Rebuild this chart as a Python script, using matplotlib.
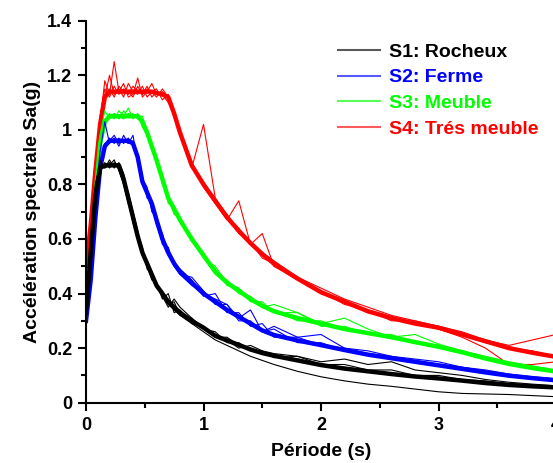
import matplotlib
matplotlib.use("Agg")
import matplotlib.pyplot as plt
from matplotlib.lines import Line2D

plt.rcParams['font.family'] = ['Liberation Sans', 'DejaVu Sans']
plt.rcParams['font.weight'] = 'bold'

# --- periods (s) shared by all curves ---
periods = [0.0, 0.04, 0.08, 0.12, 0.16, 0.20, 0.24, 0.28, 0.32, 0.36,
           0.40, 0.44, 0.48, 0.52, 0.56, 0.60, 0.65, 0.70, 0.75, 0.80,
           0.90, 1.00, 1.10, 1.20, 1.30, 1.40, 1.50, 1.60, 1.80, 2.00,
           2.20, 2.40, 2.60, 2.80, 3.00, 3.20, 3.40, 3.60, 3.80, 4.00]

# --- mean spectra per site class ---
s1_mean = [0.33, 0.55, 0.76, 0.86, 0.87, 0.87, 0.87, 0.87, 0.82, 0.75,
           0.68, 0.61, 0.55, 0.51, 0.47, 0.43, 0.40, 0.37, 0.35, 0.33,
           0.30, 0.275, 0.245, 0.228, 0.212, 0.195, 0.182, 0.172, 0.155, 0.138,
           0.125, 0.115, 0.105, 0.096, 0.089, 0.081, 0.072, 0.065, 0.060, 0.056]
s2_mean = [0.30, 0.45, 0.68, 0.86, 0.94, 0.96, 0.96, 0.96, 0.96, 0.96,
           0.95, 0.90, 0.81, 0.77, 0.73, 0.67, 0.60, 0.55, 0.51, 0.48,
           0.44, 0.40, 0.37, 0.34, 0.315, 0.29, 0.265, 0.248, 0.228, 0.211,
           0.193, 0.176, 0.163, 0.150, 0.137, 0.124, 0.111, 0.099, 0.090, 0.082]
s3_mean = [0.35, 0.50, 0.75, 0.95, 1.03, 1.05, 1.05, 1.05, 1.05, 1.05,
           1.05, 1.05, 1.03, 0.99, 0.94, 0.89, 0.82, 0.75, 0.71, 0.67,
           0.60, 0.54, 0.48, 0.44, 0.41, 0.38, 0.355, 0.335, 0.31, 0.29,
           0.27, 0.255, 0.240, 0.222, 0.205, 0.185, 0.162, 0.142, 0.127, 0.114]
s4_mean = [0.50, 0.65, 0.85, 1.02, 1.12, 1.14, 1.14, 1.14, 1.14, 1.14,
           1.14, 1.14, 1.14, 1.14, 1.14, 1.135, 1.13, 1.12, 1.06, 0.99,
           0.87, 0.80, 0.74, 0.68, 0.63, 0.585, 0.545, 0.51, 0.455, 0.405,
           0.37, 0.335, 0.31, 0.29, 0.275, 0.25, 0.225, 0.200, 0.183, 0.168]

# --- individual records (thin lines) ---
s1_records = [
    [0.35, 0.58, 0.80, 0.88, 0.86, 0.89, 0.86, 0.88, 0.84, 0.74, 0.66, 0.60, 0.56, 0.50, 0.45, 0.44, 0.38, 0.40, 0.33, 0.34,
     0.29, 0.28, 0.24, 0.24, 0.21, 0.20, 0.18, 0.17, 0.16, 0.14, 0.13, 0.118, 0.108, 0.098, 0.090, 0.082, 0.074, 0.066, 0.060, 0.055],
    [0.31, 0.52, 0.74, 0.85, 0.88, 0.86, 0.88, 0.86, 0.81, 0.77, 0.70, 0.63, 0.54, 0.52, 0.48, 0.42, 0.41, 0.36, 0.37, 0.32,
     0.31, 0.27, 0.26, 0.22, 0.22, 0.19, 0.19, 0.165, 0.17, 0.14, 0.14, 0.12, 0.12, 0.10, 0.10, 0.085, 0.08, 0.07, 0.065, 0.06],
    [0.34, 0.56, 0.78, 0.87, 0.87, 0.88, 0.87, 0.86, 0.83, 0.76, 0.68, 0.60, 0.55, 0.50, 0.46, 0.43, 0.39, 0.36, 0.34, 0.32,
     0.29, 0.26, 0.23, 0.21, 0.19, 0.17, 0.155, 0.14, 0.115, 0.095, 0.08, 0.068, 0.06, 0.05, 0.04, 0.034, 0.032, 0.03, 0.026, 0.022],
    [0.33, 0.55, 0.77, 0.89, 0.86, 0.87, 0.89, 0.85, 0.80, 0.73, 0.67, 0.62, 0.57, 0.49, 0.47, 0.44, 0.39, 0.35, 0.38, 0.35,
     0.31, 0.27, 0.25, 0.23, 0.20, 0.21, 0.19, 0.18, 0.17, 0.15, 0.16, 0.14, 0.15, 0.12, 0.11, 0.10, 0.085, 0.075, 0.068, 0.062],
]
s2_records = [
    [0.31, 0.48, 0.75, 0.92, 1.03, 0.95, 0.97, 0.94, 0.98, 0.95, 0.98, 0.88, 0.82, 0.79, 0.70, 0.68, 0.58, 0.57, 0.50, 0.49,
     0.45, 0.39, 0.40, 0.33, 0.33, 0.28, 0.29, 0.24, 0.24, 0.21, 0.20, 0.18, 0.17, 0.15, 0.14, 0.125, 0.112, 0.10, 0.091, 0.083],
    [0.30, 0.43, 0.64, 0.83, 0.93, 0.97, 0.95, 0.97, 0.95, 0.97, 0.94, 0.91, 0.83, 0.75, 0.74, 0.65, 0.62, 0.54, 0.52, 0.47,
     0.46, 0.41, 0.36, 0.36, 0.30, 0.30, 0.26, 0.27, 0.22, 0.22, 0.19, 0.18, 0.165, 0.155, 0.14, 0.13, 0.115, 0.10, 0.093, 0.085],
    [0.29, 0.46, 0.70, 0.88, 0.95, 0.96, 0.98, 0.95, 0.96, 0.95, 0.96, 0.89, 0.80, 0.76, 0.72, 0.66, 0.59, 0.56, 0.50, 0.47,
     0.43, 0.40, 0.38, 0.36, 0.31, 0.34, 0.26, 0.28, 0.24, 0.25, 0.20, 0.19, 0.17, 0.16, 0.15, 0.13, 0.12, 0.105, 0.095, 0.088],
]
s3_records = [
    [0.36, 0.53, 0.78, 0.98, 1.07, 1.04, 1.06, 1.04, 1.07, 1.05, 1.06, 1.04, 1.04, 1.00, 0.95, 0.88, 0.84, 0.73, 0.72, 0.66,
     0.61, 0.53, 0.50, 0.44, 0.42, 0.37, 0.37, 0.33, 0.33, 0.28, 0.28, 0.25, 0.25, 0.22, 0.21, 0.19, 0.165, 0.145, 0.13, 0.115],
    [0.34, 0.48, 0.72, 0.93, 1.02, 1.06, 1.04, 1.07, 1.05, 1.08, 1.04, 1.06, 1.01, 0.98, 0.93, 0.90, 0.80, 0.76, 0.69, 0.68,
     0.59, 0.55, 0.47, 0.45, 0.40, 0.39, 0.35, 0.34, 0.30, 0.30, 0.27, 0.26, 0.235, 0.225, 0.20, 0.185, 0.16, 0.14, 0.125, 0.112],
    [0.35, 0.51, 0.76, 0.96, 1.04, 1.05, 1.06, 1.05, 1.04, 1.06, 1.05, 1.05, 1.05, 0.99, 0.94, 0.89, 0.83, 0.75, 0.70, 0.67,
     0.61, 0.54, 0.49, 0.43, 0.42, 0.38, 0.35, 0.36, 0.33, 0.29, 0.31, 0.27, 0.24, 0.25, 0.215, 0.19, 0.17, 0.15, 0.135, 0.12],
]
s4_records = [
    [0.48, 0.68, 0.87, 1.05, 1.15, 1.12, 1.16, 1.13, 1.15, 1.14, 1.12, 1.16, 1.13, 1.15, 1.14, 1.12, 1.15, 1.12, 1.05, 0.98,
     0.86, 1.02, 0.75, 0.68, 0.64, 0.58, 0.55, 0.50, 0.46, 0.40, 0.37, 0.33, 0.31, 0.29, 0.27, 0.25, 0.22, 0.20, 0.18, 0.165],
    [0.52, 0.62, 0.83, 1.00, 1.12, 1.20, 1.13, 1.15, 1.12, 1.17, 1.14, 1.13, 1.16, 1.12, 1.14, 1.15, 1.11, 1.13, 1.07, 1.00,
     0.88, 0.80, 0.73, 0.67, 0.74, 0.58, 0.62, 0.50, 0.45, 0.41, 0.36, 0.34, 0.30, 0.30, 0.28, 0.25, 0.23, 0.20, 0.19, 0.17],
    [0.50, 0.66, 0.86, 1.03, 1.18, 1.13, 1.25, 1.14, 1.17, 1.12, 1.13, 1.19, 1.12, 1.14, 1.17, 1.13, 1.14, 1.12, 1.06, 0.99,
     0.87, 0.81, 0.74, 0.69, 0.63, 0.59, 0.55, 0.52, 0.46, 0.42, 0.38, 0.35, 0.32, 0.30, 0.28, 0.26, 0.23, 0.21, 0.23, 0.25],
    [0.49, 0.64, 0.84, 1.02, 1.13, 1.15, 1.12, 1.16, 1.14, 1.13, 1.16, 1.14, 1.13, 1.16, 1.12, 1.14, 1.13, 1.10, 1.05, 0.98,
     0.88, 0.79, 0.73, 0.68, 0.62, 0.59, 0.53, 0.51, 0.45, 0.41, 0.37, 0.34, 0.315, 0.29, 0.27, 0.24, 0.20, 0.14, 0.14, 0.15],
]

labels = ['S1: Rocheux', 'S2: Ferme', 'S3: Meuble', 'S4: Trés meuble']
colors = ['#000000', '#0000ff', '#00ff00', '#ff0000']

fig = plt.figure(figsize=(5.53, 4.63), dpi=100)
ax = fig.add_axes([86 / 553, 60.3 / 463, 470 / 553, 382 / 463])

groups = [(s4_mean, s4_records, colors[3]), (s3_mean, s3_records, colors[2]),
          (s2_mean, s2_records, colors[1]), (s1_mean, s1_records, colors[0])]
for mean, records, c in groups:
    for rec in records:
        ax.plot(periods, rec, color=c, lw=0.8)
    ax.plot(periods, mean, color=c, lw=3.2)

ax.set_xlim(0, 4)
ax.set_ylim(0, 1.4)
ax.set_xticks([0, 1, 2, 3, 4])
ax.set_xticklabels(['0', '1', '2', '3', '4'])
ax.set_xticks([0.5, 1.5, 2.5, 3.5], minor=True)
ax.set_yticks([0, 0.2, 0.4, 0.6, 0.8, 1.0, 1.2, 1.4])
ax.set_yticklabels(['0', '0.2', '0.4', '0.6', '0.8', '1', '1.2', '1.4'])
ax.set_yticks([0.1, 0.3, 0.5, 0.7, 0.9, 1.1, 1.3], minor=True)
ax.tick_params(which='major', direction='out', length=6, width=1.5, labelsize=13, pad=4)
ax.tick_params(which='minor', direction='out', length=3.5, width=1.5)
for side in ['top', 'right']:
    ax.spines[side].set_visible(False)
for side in ['left', 'bottom']:
    ax.spines[side].set_linewidth(1.5)
ax.set_xlabel('Période (s)', fontsize=14, fontweight='bold', labelpad=7)
ax.set_ylabel('Accélération spectrale Sa(g)', fontsize=14, fontweight='bold', labelpad=4)

# legend with colored text
handles = [Line2D([], [], color=c, lw=1.5, alpha=0.65) for c in colors]
leg = fig.legend(handles, labels, loc='upper left', bbox_to_anchor=(338 / 553, 1 - 43 / 463),
                 frameon=False, fontsize=14, handlelength=2.15, handletextpad=0.45,
                 labelspacing=0.42, borderpad=0, borderaxespad=0)
for txt, c in zip(leg.get_texts(), colors):
    txt.set_color(c)

fig.savefig('out.png', dpi=100)
